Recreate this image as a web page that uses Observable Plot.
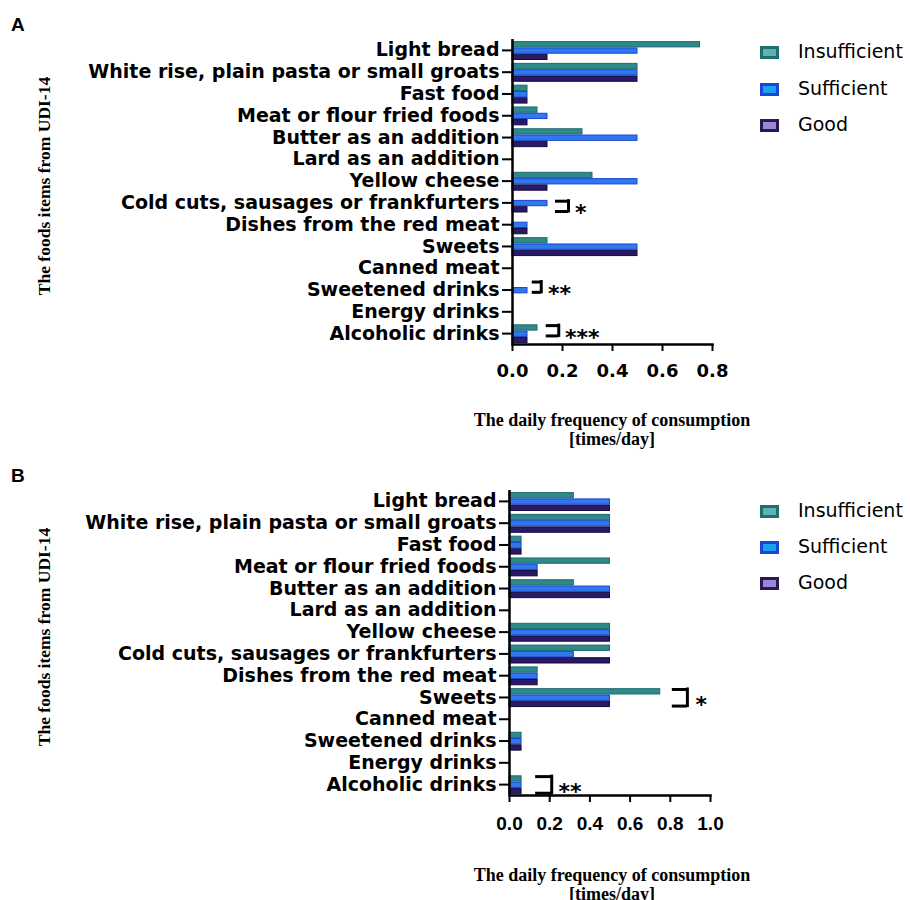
<!DOCTYPE html>
<html>
<head>
<meta charset="utf-8">
<script src="https://cdn.jsdelivr.net/npm/d3@7"></script>
<script src="https://cdn.jsdelivr.net/npm/@observablehq/plot@0.6"></script>
<style>
  html, body { margin: 0; padding: 0; background: #fff; }
  #root { position: relative; width: 910px; height: 900px; overflow: hidden; background: #fff; }
  .abs { position: absolute; white-space: nowrap; color: #000; }
  .letter { font-family: "Liberation Sans", Arial, sans-serif; font-weight: bold; font-size: 19px; line-height: 19px; }
  .xtitle { font-family: "Liberation Serif", "Times New Roman", serif; font-weight: bold; font-size: 18px; line-height: 19px; text-align: center; width: 400px; }
  .ytitle { font-family: "Liberation Serif", "Times New Roman", serif; font-weight: bold; font-size: 17.5px; line-height: 18px; text-align: center; width: 300px; transform: rotate(-90deg); }
  .leg { font-family: "DejaVu Sans", sans-serif; font-size: 19px; line-height: 22px; }
  .sw { position: absolute; box-sizing: border-box; width: 19px; height: 13px; border-width: 3px; border-style: solid; }
</style>
</head>
<body>
<div id="root"></div>
<script>
// ---------------- data ----------------
const foods = [
  "Light bread",
  "White rise, plain pasta or small groats",
  "Fast food",
  "Meat or flour fried foods",
  "Butter as an addition",
  "Lard as an addition",
  "Yellow cheese",
  "Cold cuts, sausages or frankfurters",
  "Dishes from the red meat",
  "Sweets",
  "Canned meat",
  "Sweetened drinks",
  "Energy drinks",
  "Alcoholic drinks"
];
const groups = ["Insufficient", "Sufficient", "Good"];

// Panel A (times/day)
const insufficientA = [0.75, 0.5, 0.06, 0.10, 0.28, 0, 0.32, 0,    0,    0.14, 0, 0,    0, 0.10];
const sufficientA   = [0.5,  0.5, 0.06, 0.14, 0.5,  0, 0.5,  0.14, 0.06, 0.5,  0, 0.06, 0, 0.06];
const goodA         = [0.14, 0.5, 0.06, 0.06, 0.14, 0, 0.14, 0.06, 0.06, 0.5,  0, 0,    0, 0.06];

// Panel B (times/day)
const insufficientB = [0.32, 0.5, 0.06, 0.5,  0.32, 0, 0.5, 0.5,  0.14, 0.75, 0, 0.06, 0, 0.06];
const sufficientB   = [0.5,  0.5, 0.06, 0.14, 0.5,  0, 0.5, 0.32, 0.14, 0.5,  0, 0.06, 0, 0.06];
const goodB         = [0.5,  0.5, 0.06, 0.14, 0.5,  0, 0.5, 0.5,  0.14, 0.5,  0, 0.06, 0, 0.06];

const ticksA = [0, 0.2, 0.4, 0.6, 0.8];
const ticksB = [0, 0.2, 0.4, 0.6, 0.8, 1.0];

// significance annotations
const sigFoodA  = ["Cold cuts, sausages or frankfurters", "Sweetened drinks", "Alcoholic drinks"];
const sigLabelA = ["*", "**", "***"];
const sigFromA  = ["Sufficient", "Insufficient", "Insufficient"];
const sigToA    = ["Good", "Sufficient", "Sufficient"];
const sigX1A    = [0.172, 0.079, 0.135];
const sigX2A    = [0.224, 0.115, 0.185];
const sigTextXA = [0.250, 0.142, 0.210];

const sigFoodB  = ["Sweets", "Alcoholic drinks"];
const sigLabelB = ["*", "**"];
const sigFromB  = ["Insufficient", "Insufficient"];
const sigToB    = ["Good", "Good"];
const sigX1B    = [0.81, 0.13];
const sigX2B    = [0.885, 0.21];
const sigTextXB = [0.925, 0.244];

// ---------------- styles ----------------
const barFill   = ["#2e8a8a", "#2f78ee", "#2a1a66"];
const barStroke = ["#1f6b6b", "#1a44d4", "#150b40"];
const legFill   = ["#5fb2b2", "#19a2f2", "#9c86d6"];
const legStroke = ["#1f6f6f", "#1a46d6", "#2a1850"];

const root = document.getElementById("root");

function addDiv(cls, text, style) {
  const d = document.createElement("div");
  d.className = "abs " + cls;
  d.textContent = text;
  Object.assign(d.style, style);
  root.appendChild(d);
  return d;
}

function panel(cfg) {
  const {top, H, bandTop, bandBottom, values, xMax, ticks, marginLeft, marginRight,
         tickFont, tickSizeFont, tickPadding, sig} = cfg;
  const data = foods.flatMap((f, i) => groups.map((g, j) => ({food: f, group: g, value: values[j][i]})));
  const bw = (bandBottom - bandTop) / foods.length;
  const barStart = [2.6, 8.9, 15.2];
  const thick = 5.3;

  const marks = [];
  groups.forEach((g, j) => {
    marks.push(Plot.barX(data.filter(d => d.group === g && d.value > 0), {
      x: "value", y: "food",
      fill: barFill[j], stroke: barStroke[j], strokeWidth: 1,
      insetTop: barStart[j], insetBottom: bw - barStart[j] - thick
    }));
  });
  marks.push(Plot.ruleX([0], {strokeWidth: 2.5, stroke: "#000"}));
  marks.push(Plot.frame({anchor: "bottom", strokeWidth: 2.5, stroke: "#000"}));
  marks.push(Plot.axisY({tickSize: 10, tickPadding: 3, fontSize: 19, fontFamily: "DejaVu Sans",
                          fontWeight: "bold", strokeWidth: 2, label: null, fill: "#000"}));
  marks.push(Plot.axisX({ticks, tickFormat: d3.format(".1f"), tickSize: 7, tickPadding,
                          fontSize: tickSizeFont, fontFamily: tickFont, fontWeight: "bold",
                          strokeWidth: 2, label: null, fill: "#000"}));

  sig.food.forEach((food, k) => {
    const s = {food, x1: sig.x1[k], x2: sig.x2[k], tx: sig.tx[k], label: sig.label[k]};
    const t = barStart[groups.indexOf(sig.from[k])] + 0.3;
    const b = barStart[groups.indexOf(sig.to[k])] + thick - 1;
    marks.push(Plot.ruleY([s], {y: "food", x1: "x1", x2: "x2", dy: t - bw / 2, strokeWidth: 3, stroke: "#000"}));
    marks.push(Plot.ruleY([s], {y: "food", x1: "x1", x2: "x2", dy: b - bw / 2, strokeWidth: 3, stroke: "#000"}));
    marks.push(Plot.tickX([s], {x: "x2", y: "food", insetTop: t - 1.5, insetBottom: bw - b - 1.5, strokeWidth: 3, stroke: "#000"}));
    marks.push(Plot.text([s], {x: "tx", y: "food", text: "label", textAnchor: "start",
      dy: (t + b) / 2 - bw / 2 + 7, fontSize: 22, fontWeight: "bold", fontFamily: "DejaVu Sans",
      fill: "#000"}));
  });

  const svg = Plot.plot({
    width: 910,
    height: H,
    marginTop: bandTop - top,
    marginBottom: H - (bandBottom - top),
    marginLeft,
    marginRight,
    style: {background: "transparent", color: "#000", overflow: "visible"},
    x: {domain: [0, xMax], axis: null},
    y: {domain: foods, padding: 0, round: false, axis: null},
    marks
  });
  svg.style.position = "absolute";
  svg.style.left = "0px";
  svg.style.top = top + "px";
  root.appendChild(svg);
}

panel({
  top: 0, H: 395, bandTop: 39, bandBottom: 344,
  values: [insufficientA, sufficientA, goodA], xMax: 0.8, ticks: ticksA,
  marginLeft: 512, marginRight: 198, tickFont: "DejaVu Sans", tickSizeFont: 18, tickPadding: 13,
  sig: {food: sigFoodA, label: sigLabelA, from: sigFromA, to: sigToA, x1: sigX1A, x2: sigX2A, tx: sigTextXA}
});
panel({
  top: 450, H: 400, bandTop: 490, bandBottom: 795,
  values: [insufficientB, sufficientB, goodB], xMax: 1.0, ticks: ticksB,
  marginLeft: 509, marginRight: 200, tickFont: "Liberation Sans", tickSizeFont: 19, tickPadding: 14,
  sig: {food: sigFoodB, label: sigLabelB, from: sigFromB, to: sigToB, x1: sigX1B, x2: sigX2B, tx: sigTextXB}
});

// panel letters
addDiv("letter", "A", {left: "11px", top: "15px"});
addDiv("letter", "B", {left: "11px", top: "466px"});

// axis titles
const xTitle = "The daily frequency of consumption\n[times/day]";
const yTitle = "The foods items from UDI-14";
[[411, 186], [866, 637]].forEach(([ty, cy]) => {
  const d = addDiv("xtitle", "", {left: (612 - 200) + "px", top: ty + "px"});
  d.innerHTML = xTitle.split("\n").join("<br>");
  addDiv("ytitle", yTitle, {left: (44 - 150) + "px", top: (cy - 9) + "px"});
});

// legends
[[51, 87.5, 124], [510, 546, 582]].forEach(ys => {
  groups.forEach((g, j) => {
    addDiv("leg", g, {left: "798px", top: (ys[j] - 11) + "px"});
    const s = document.createElement("div");
    s.className = "sw";
    Object.assign(s.style, {left: "760px", top: (ys[j] - 5) + "px", background: legFill[j], borderColor: legStroke[j]});
    root.appendChild(s);
  });
});
</script>
</body>
</html>
